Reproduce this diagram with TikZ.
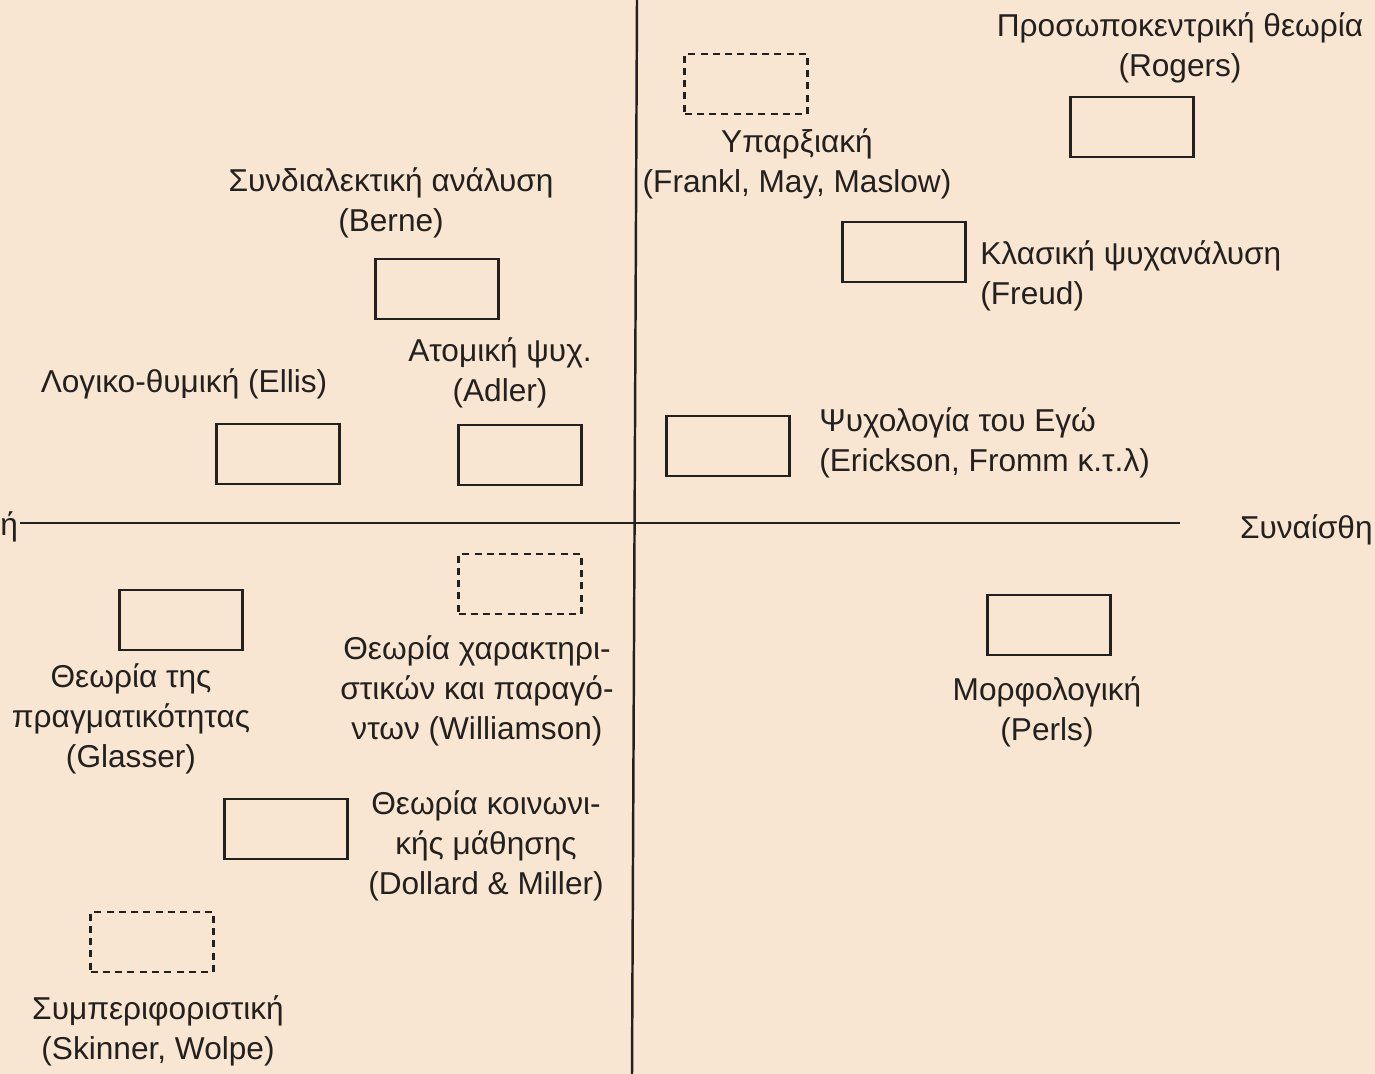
\documentclass[tikz,border=0pt]{standalone}
\usepackage{fontspec}
\setmainfont{Liberation Sans}
\usetikzlibrary{positioning}
\definecolor{paper}{RGB}{248,230,210}
\definecolor{ink}{RGB}{35,32,30}

\begin{document}
\begin{tikzpicture}[x=0.02cm, y=-0.02cm, color=ink,
    box/.style={draw, line width=1.4pt, minimum width=2.46cm, minimum height=1.2cm},
    dbox/.style={box, line width=1.3pt, dash pattern=on 4pt off 3pt},
    lbl/.style={align=center, inner sep=0pt, font=\fontsize{18}{22.8}\selectfont},
    axis/.style={line width=1.4pt}]
    \fill[paper] (0,0) rectangle (1375,1074);
    \useasboundingbox (0,0) rectangle (1375,1074);

    % axes
    \coordinate (ax n) at (637,0);
    \coordinate (ax s) at (632,1074);
    \coordinate (ax w) at (20,523);
    \coordinate (ax e) at (1180,523);
    \draw[axis] (ax n) -- (ax s);
    \draw[axis] (ax w) -- (ax e);
    \node[lbl, anchor=west] at (0,527) (lab w) {ή};
    \node[lbl, anchor=east] at (1373,530) (lab e) {Συναίσθη};

    % boxes
    \node[box] at (1132,127) (b rogers) {};
    \node[dbox] at (746,84) (b frankl) {};
    \node[box] at (904,252) (b freud) {};
    \node[box] at (437,289) (b berne) {};
    \node[box] at (278,454) (b ellis) {};
    \node[box] at (520,455) (b adler) {};
    \node[box] at (728,446) (b ego) {};
    \node[dbox] at (520,584) (b william) {};
    \node[box] at (181,620) (b glasser) {};
    \node[box] at (1049,625) (b perls) {};
    \node[box] at (286,829) (b dollard) {};
    \node[dbox] at (152,942) (b skinner) {};

    % labels
    \node[lbl] at (1180,48) (t rogers) {Προσωποκεντρική θεωρία\\(Rogers)};
    \node[lbl] at (797,164) (t frankl) {Υπαρξιακή\\(Frankl, May, Maslow)};
    \node[lbl] at (391,203) (t berne) {Συνδιαλεκτική ανάλυση\\(Berne)};
    \node[lbl, align=left, anchor=west] at (980,276) (t freud) {Κλασική ψυχανάλυση\\(Freud)};
    \node[lbl] at (500,373) (t adler) {Ατομική ψυχ.\\(Adler)};
    \node[lbl] at (184,384) (t ellis) {Λογικο-θυμική (Ellis)};
    \node[lbl, align=left, anchor=west] at (819,443) (t ego) {Ψυχολογία του Εγώ\\(Erickson, Fromm κ.τ.λ)};
    \node[lbl] at (477,691) (t william) {Θεωρία χαρακτηρι-\\στικών και παραγό-\\ντων (Williamson)};
    \node[lbl] at (131,719) (t glasser) {Θεωρία της\\πραγματικότητας\\(Glasser)};
    \node[lbl] at (1047,712) (t perls) {Μορφολογική\\(Perls)};
    \node[lbl] at (486,846) (t dollard) {Θεωρία κοινωνι-\\κής μάθησης\\(Dollard \& Miller)};
    \node[lbl] at (158,1031) (t skinner) {Συμπεριφοριστική\\(Skinner, Wolpe)};
\end{tikzpicture}
\end{document}
